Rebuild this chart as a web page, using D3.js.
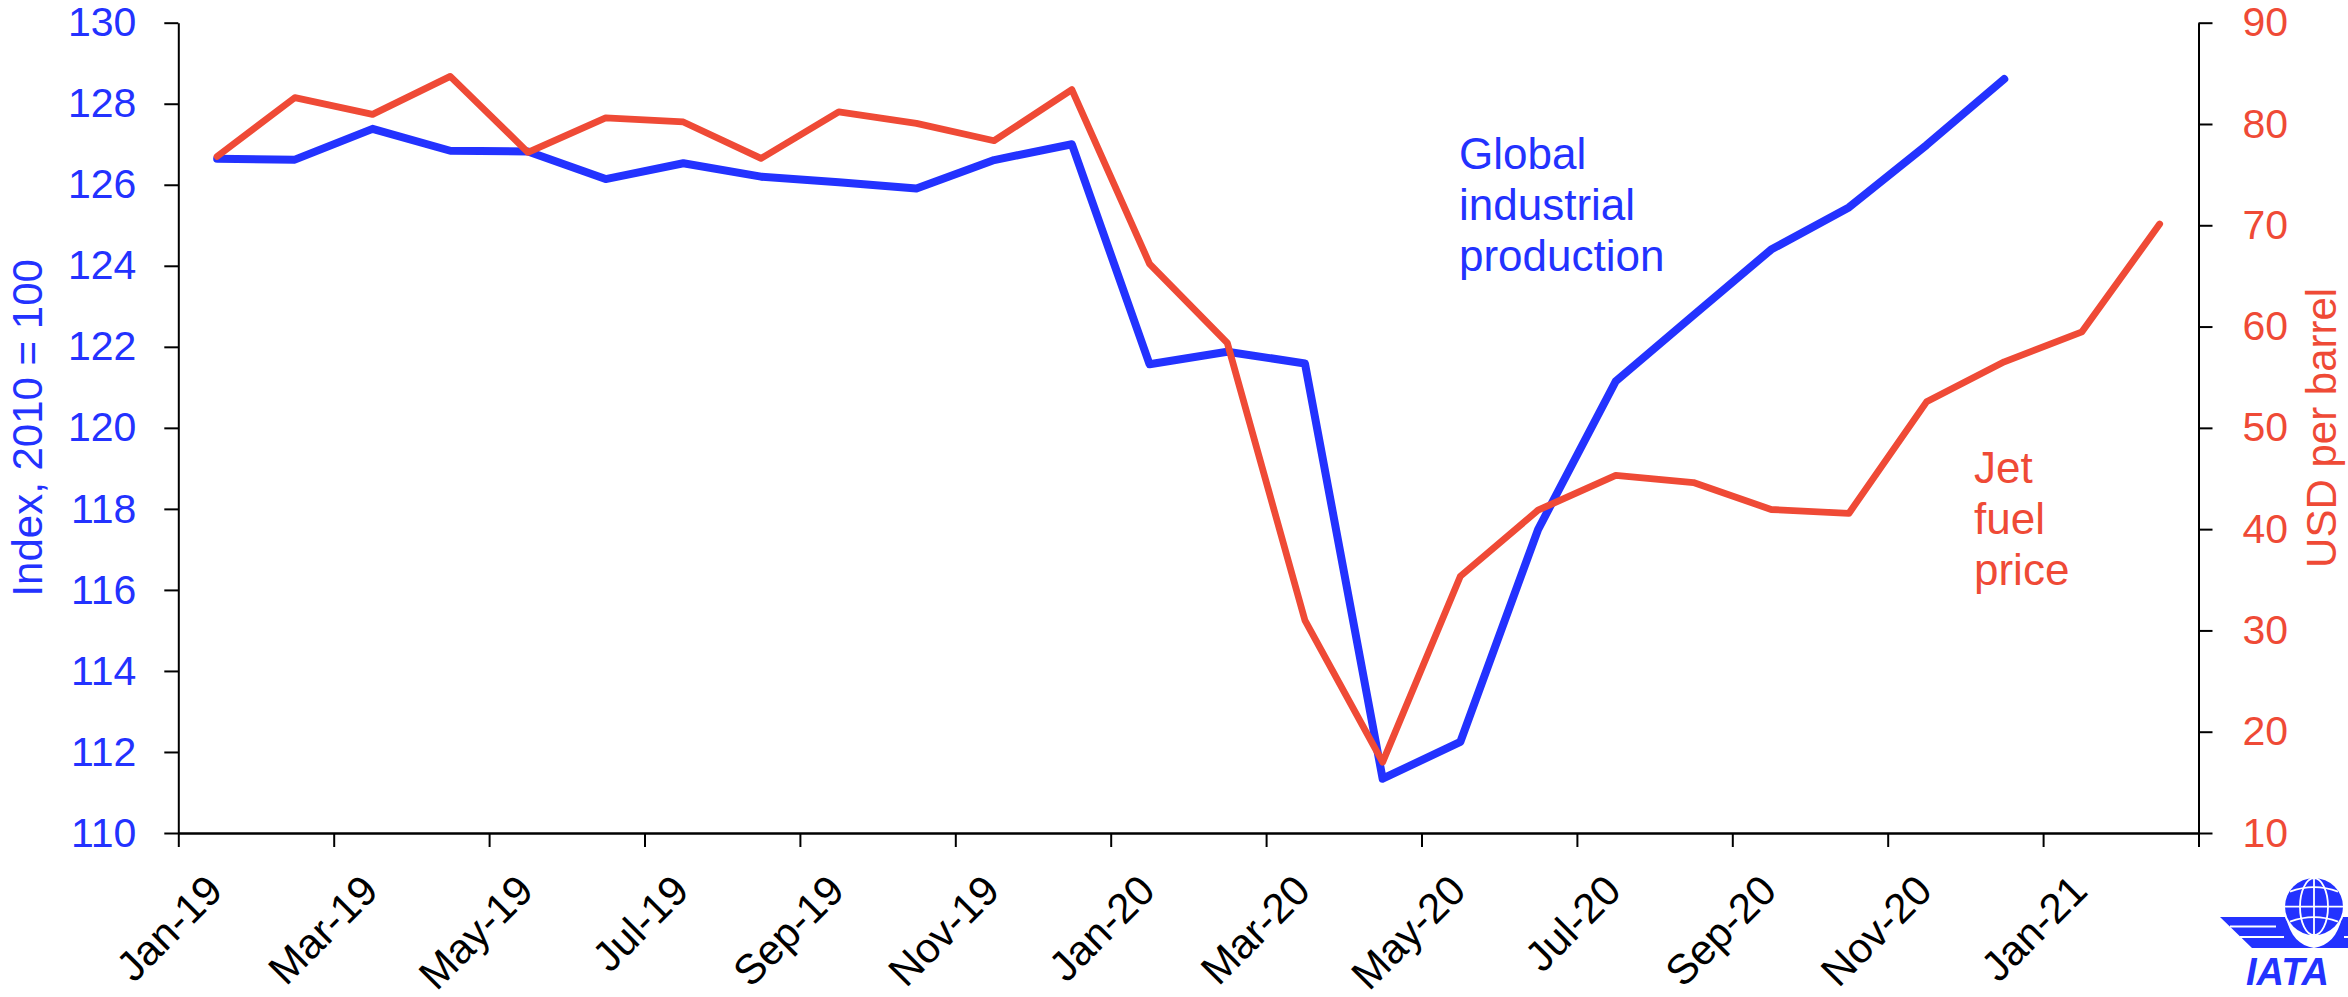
<!DOCTYPE html>
<html>
<head>
<meta charset="utf-8">
<script src="https://cdn.jsdelivr.net/npm/d3@7"></script>
<style>
  html, body { margin: 0; padding: 0; background: #fff; }
  svg { display: block; font-family: 'Liberation Sans', Arial, Helvetica, sans-serif; }
</style>
</head>
<body>
<script>
// ---- data ----
const months = ["Jan-19","Feb-19","Mar-19","Apr-19","May-19","Jun-19","Jul-19","Aug-19","Sep-19","Oct-19","Nov-19","Dec-19",
                "Jan-20","Feb-20","Mar-20","Apr-20","May-20","Jun-20","Jul-20","Aug-20","Sep-20","Oct-20","Nov-20","Dec-20",
                "Jan-21","Feb-21"];
const industrialProduction = [126.64,126.62,127.38,126.84,126.82,126.14,126.53,126.2,126.06,125.91,126.61,127.0,
                              121.57,121.88,121.59,111.34,112.25,117.49,121.15,122.78,124.4,125.44,126.98,128.61];
const jetFuelPrice = [76.8,82.6,80.95,84.7,77.2,80.6,80.2,76.6,81.2,80.06,78.35,83.4,
                      66.2,58.4,31.0,17.0,35.35,41.87,45.3,44.6,41.94,41.55,52.57,56.52,59.48,70.12];
const xTickLabels = ["Jan-19","Mar-19","May-19","Jul-19","Sep-19","Nov-19","Jan-20","Mar-20","May-20","Jul-20","Sep-20","Nov-20","Jan-21",""];
const leftTicks = [110,112,114,116,118,120,122,124,126,128,130];
const rightTicks = [10,20,30,40,50,60,70,80,90];

// ---- styles ----
const BLUE = "#2332FF", RED = "#EF4A36";
const W = 2348, H = 997;
const L = 178.3, R = 2198.5, T = 22.7, B = 833;

const svg = d3.select("body").append("svg").attr("width", W).attr("height", H);

const xb = d3.scaleBand().domain(months).range([L, R]).padding(0);
const xt = d3.scaleLinear().domain([0, months.length]).range([L, R]);
const yL = d3.scaleLinear().domain([110, 130]).range([B, T]);
const yR = d3.scaleLinear().domain([10, 90]).range([B, T]);

// left axis
const gL = svg.append("g").attr("transform", `translate(${L},0)`)
  .call(d3.axisLeft(yL).tickValues(leftTicks).tickFormat(d3.format("d")).tickSize(14).tickPadding(28).tickSizeOuter(0));
gL.selectAll("text").attr("fill", BLUE).style("font-size", "41px");

// right axis
const gR = svg.append("g").attr("transform", `translate(${R},0)`)
  .call(d3.axisRight(yR).tickValues(rightTicks).tickFormat(d3.format("d")).tickSize(14).tickPadding(30).tickSizeOuter(0));
gR.selectAll("text").attr("fill", RED).style("font-size", "41px");

// bottom axis
const gB = svg.append("g").attr("transform", `translate(0,${B})`)
  .call(d3.axisBottom(xt).tickValues(d3.range(0, months.length + 1, 2))
        .tickFormat((d, i) => xTickLabels[i]).tickSize(14).tickSizeOuter(0));
gB.selectAll("text")
  .attr("x", 0).attr("y", 0).attr("dy", 0)
  .attr("text-anchor", "end")
  .attr("transform", "translate(46,60) rotate(-45)")
  .attr("fill", "#000").style("font-size", "42px");

[gL, gR].forEach(g => { g.select(".domain").attr("stroke", "#000").attr("stroke-width", 2); g.selectAll(".tick line").attr("stroke", "#000").attr("stroke-width", 2); });
gB.select(".domain").attr("stroke", "#000").attr("stroke-width", 2.6);
gB.selectAll(".tick line").attr("stroke", "#000").attr("stroke-width", 2);
svg.selectAll(".domain").attr("fill", "none");

// axis titles
svg.append("text").attr("transform", `translate(42,${(T + B) / 2}) rotate(-90)`)
  .attr("text-anchor", "middle").attr("fill", BLUE).style("font-size", "42px").text("Index, 2010 = 100");
svg.append("text").attr("transform", `translate(2336,${(T + B) / 2}) rotate(-90)`)
  .attr("text-anchor", "middle").attr("fill", RED).style("font-size", "42px").text("USD per barrel");

// lines
const cx = m => xb(m) + xb.bandwidth() / 2;
const lineL = d3.line().x((d, i) => cx(months[i])).y(d => yL(d));
const lineR = d3.line().x((d, i) => cx(months[i])).y(d => yR(d));

svg.append("path").datum(industrialProduction).attr("d", lineL)
  .attr("fill", "none").attr("stroke", BLUE).attr("stroke-width", 8)
  .attr("stroke-linejoin", "round").attr("stroke-linecap", "round");
svg.append("path").datum(jetFuelPrice).attr("d", lineR)
  .attr("fill", "none").attr("stroke", RED).attr("stroke-width", 6.8)
  .attr("stroke-linejoin", "round").attr("stroke-linecap", "round");

// annotations
const a1 = svg.append("text").attr("fill", BLUE).style("font-size", "44px");
["Global", "industrial", "production"].forEach((t, i) =>
  a1.append("tspan").attr("x", 1459).attr("y", 169 + i * 51).text(t));
const a2 = svg.append("text").attr("fill", RED).style("font-size", "44px");
["Jet", "fuel", "price"].forEach((t, i) =>
  a2.append("tspan").attr("x", 1974).attr("y", 483 + i * 51).text(t));

// IATA logo (simplified)
const logo = svg.append("g");
const gx = 2314, gy = 906.7;
function wing(g) {
  g.append("path")
    .attr("d", `M2220,917 L2286,917 C2290,936 2300,946 ${gx},948 L2252,948 Z`)
    .attr("fill", BLUE);
  g.append("line").attr("x1", 2230).attr("x2", 2276).attr("y1", 926.5).attr("y2", 926.5).attr("stroke", "#fff").attr("stroke-width", 2.2);
  g.append("line").attr("x1", 2240).attr("x2", 2284).attr("y1", 937).attr("y2", 937).attr("stroke", "#fff").attr("stroke-width", 2.2);
}
wing(logo.append("g"));
wing(logo.append("g").attr("transform", `translate(${2 * gx},0) scale(-1,1)`));
logo.append("ellipse").attr("cx", gx).attr("cy", gy).attr("rx", 31).attr("ry", 30.5).attr("fill", "#fff");
logo.append("ellipse").attr("cx", gx).attr("cy", gy).attr("rx", 29).attr("ry", 28.5).attr("fill", BLUE);
const gw = "#fff";
logo.append("line").attr("x1", gx).attr("x2", gx).attr("y1", gy - 28.5).attr("y2", gy + 28.5).attr("stroke", gw).attr("stroke-width", 1.8);
logo.append("ellipse").attr("cx", gx).attr("cy", gy).attr("rx", 14).attr("ry", 28.5).attr("fill", "none").attr("stroke", gw).attr("stroke-width", 1.8);
logo.append("line").attr("x1", gx - 29).attr("x2", gx + 29).attr("y1", gy).attr("y2", gy).attr("stroke", gw).attr("stroke-width", 1.8);
logo.append("path").attr("d", `M${gx - 24},${gy - 15} Q${gx},${gy - 24} ${gx + 24},${gy - 15}`).attr("fill", "none").attr("stroke", gw).attr("stroke-width", 1.8);
logo.append("path").attr("d", `M${gx - 24},${gy + 15} Q${gx},${gy + 6} ${gx + 24},${gy + 15}`).attr("fill", "none").attr("stroke", gw).attr("stroke-width", 1.8);
logo.append("text").attr("x", 2246).attr("y", 985).attr("fill", BLUE)
  .style("font-size", "38px").style("font-weight", "bold").style("font-style", "italic").text("IATA");
</script>
</body>
</html>
